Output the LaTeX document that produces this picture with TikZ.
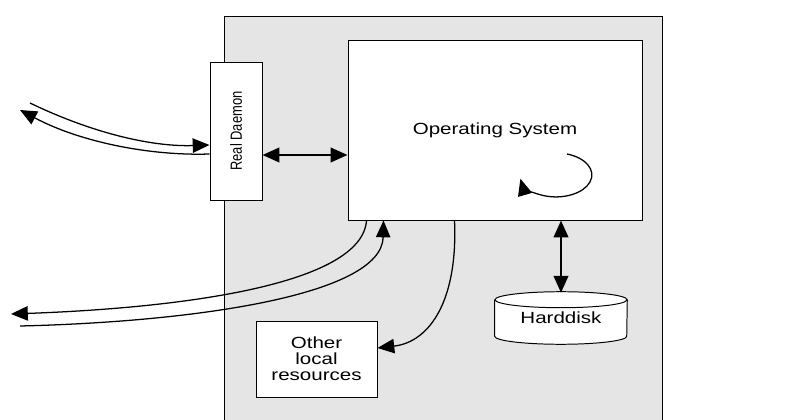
\documentclass[tikz,border=0pt]{standalone}
\usepackage{fontspec}
\setmainfont{Liberation Sans}
\newfontfamily\widefont[FakeStretch=1.27]{Liberation Sans}
\newfontfamily\slimfont[FakeStretch=0.8]{Liberation Sans}
\usetikzlibrary{arrows.meta,calc}
\tikzset{
  box/.style={draw,fill=white,line width=.7pt,inner sep=0pt},
  txt/.style={font=\widefont\fontsize{11.5}{12.5}\selectfont,align=center},
  tip/.tip={Triangle[length=4.2mm,width=3.6mm]},
  flow/.style={line width=.9pt,-tip},
  bigarrow/.style={line width=1.8pt,tip-tip}
}
\begin{document}
\begin{tikzpicture}[x=.25mm,y=-.25mm]
\useasboundingbox (0,0) rectangle (794,420);
% Machine
\fill[black!10] (224,16) rectangle (662,430);
\draw[line width=.7pt] (224,430) -- (224,16) -- (662,16) -- (662,430);
\node[box,minimum width=73.5mm,minimum height=45mm,txt] (os) at (495,130) {Operating System};
\node[box,minimum width=13mm,minimum height=34.5mm] (daemon) at (236,131)
  {\rotatebox{90}{\slimfont\fontsize{11.5}{12.5}\selectfont Real Daemon}};
\node[box,minimum width=30.25mm,minimum height=19mm,txt,font=\widefont\fontsize{11.5}{11.5}\selectfont] (other) at (316.5,359)
  {Other\\local\\resources};
% Harddisk
\node[minimum width=33mm,minimum height=9mm,inner sep=0pt] (disk) at (561,318) {};
\fill[white] (disk.north west) -- (disk.south west) arc[start angle=180,end angle=360,x radius=16.5mm,y radius=2mm]
  -- (disk.north east) arc[start angle=0,end angle=180,x radius=16.5mm,y radius=2mm];
\draw[line width=.7pt] (disk.north west) -- (disk.south west) arc[start angle=180,end angle=360,x radius=16.5mm,y radius=2mm]
  -- (disk.north east);
\draw[line width=.7pt,fill=white] (disk.north) ellipse[x radius=16.5mm,y radius=2mm];
\node[txt] at (disk) {Harddisk};
% Outside world
\coordinate (net1) at (30,103);
\coordinate (net2) at (20,110);
\coordinate (net3) at (11,314);
\coordinate (net4) at (20,326);
\draw[flow] (net1) .. controls (90,132) and (150,147) .. ($(daemon.west)+(0,14)$);
\draw[flow] ($(daemon.west)+(0,23)$) .. controls (150,156) and (80,142) .. (net2);
\draw[bigarrow] ($(daemon.east)+(0,24)$) coordinate (d1) -- (d1 -| os.west);
\draw[flow] ($(os.south west)+(19,0)$) .. controls (362,285) and (180,308) .. (net3);
\draw[flow] (net4) .. controls (190,322) and (382,296) .. ($(os.south west)+(36,0)$);
\draw[flow] ($(os.south west)+(107,0)$) .. controls (458,300) and (430,342) .. ($(other.east)+(0,-11)$);
\draw[bigarrow] (os.south -| disk.north) -- ($(disk.north)+(0,-7)$);
% Scheduler loop
\draw[flow] ($(os.center)+(72,24)$) arc[start angle=72,end angle=-170,x radius=9mm,y radius=5.5mm];
\end{tikzpicture}
\end{document}
